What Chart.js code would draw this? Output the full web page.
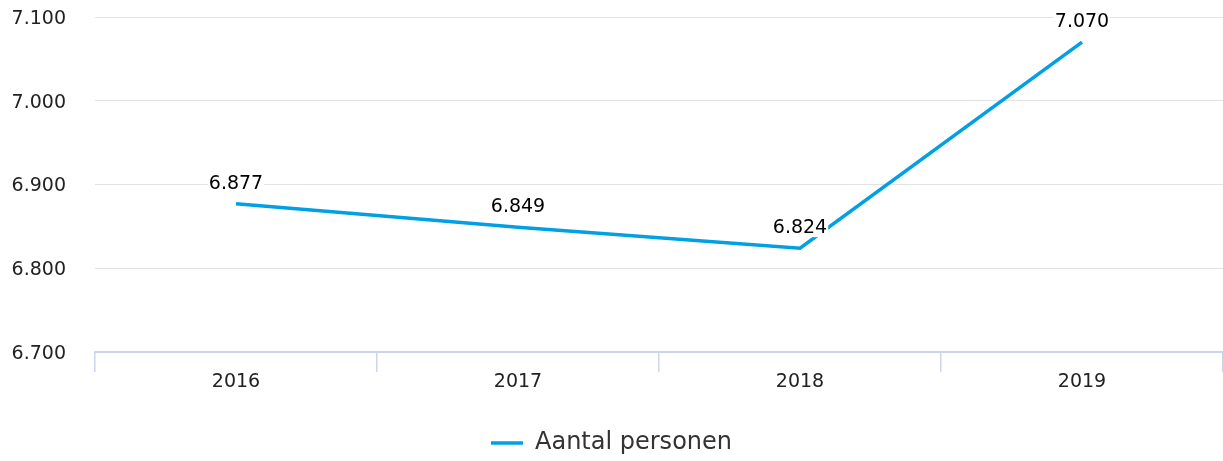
<!DOCTYPE html>
<html>
<head>
<meta charset="utf-8">
<script src="https://cdn.jsdelivr.net/npm/chart.js@4"></script>
<style>
  html, body { margin: 0; padding: 0; background: #fff; }
  #wrap { width: 1223px; height: 461px; position: relative; }
</style>
</head>
<body>
<div id="wrap"><canvas id="personenChart"></canvas></div>
<script>
const years = ["2016", "2017", "2018", "2019"];
const aantalPersonen = [6877, 6849, 6824, 7070];
const seriesLabel = "Aantal personen";
const yMin = 6700;
const yMax = 7100;
const yStep = 100;

const lineColor = "#00a0e3";
const fontFamily = "'DejaVu Sans', Verdana, sans-serif";

function formatNl(value) {
  return String(Math.round(value)).replace(/\B(?=(\d{3})+(?!\d))/g, ".");
}

// labels boven de punten, met witte achtergrond
const valueLabels = {
  id: "valueLabels",
  afterDatasetsDraw(chart) {
    const ctx = chart.ctx;
    const meta = chart.getDatasetMeta(0);
    ctx.save();
    ctx.font = "19px " + fontFamily;
    ctx.textAlign = "center";
    ctx.textBaseline = "middle";
    meta.data.forEach((pt, i) => {
      const txt = formatNl(chart.data.datasets[0].data[i]);
      const w = ctx.measureText(txt).width;
      const y = pt.y - 20;
      ctx.fillStyle = "#fff";
      ctx.fillRect(pt.x - w / 2 - 1, y - 9, w + 2, 18);
      ctx.fillStyle = "#000";
      ctx.fillText(txt, pt.x, y);
    });
    ctx.restore();
  }
};

const personenData = {
  labels: years,
  datasets: [
    {
      label: seriesLabel,
      data: aantalPersonen,
      borderColor: lineColor,
      backgroundColor: lineColor,
      borderWidth: 3.5,
      pointRadius: 0,
      tension: 0,
    },
  ],
};

const personenConfig = {
  type: "line",
  data: personenData,
  options: {
    responsive: true,
    maintainAspectRatio: false,
    animation: false,
    layout: { padding: { top: 17, right: 0, left: 0, bottom: -4 } },
    plugins: {
      tooltip: { enabled: false },
      legend: {
        position: "bottom",
        labels: {
          usePointStyle: true,
          pointStyle: "line",
          pointStyleWidth: 32,
          color: "#333",
          padding: 39,
          font: { family: fontFamily, size: 24 },
        },
      },
    },
    scales: {
      x: {
        offset: true,
        afterFit(scale) { scale.height = 40; },
        grid: {
          offset: true,
          drawOnChartArea: false,
          drawTicks: true,
          tickLength: 20,
          color: "#ccd6eb",
          lineWidth: 1.5,
        },
        border: { color: "#ccd6eb", width: 2 },
        ticks: {
          color: "#222",
          padding: -1,
          font: { family: fontFamily, size: 19 },
        },
      },
      y: {
        min: yMin,
        max: yMax,
        afterFit(scale) { scale.width = 95; },
        grid: {
          color: "#e3e3e3",
          lineWidth: 1,
          drawTicks: true,
          tickLength: 29,
          tickColor: "rgba(0,0,0,0)",
        },
        border: { display: false },
        ticks: {
          stepSize: yStep,
          color: "#222",
          padding: 0,
          labelOffset: 2,
          font: { family: fontFamily, size: 19 },
          callback: (v) => formatNl(v),
        },
      },
    },
  },
  plugins: [valueLabels],
};

const personenChart = new Chart(document.getElementById("personenChart"), personenConfig);
</script>
</body>
</html>
